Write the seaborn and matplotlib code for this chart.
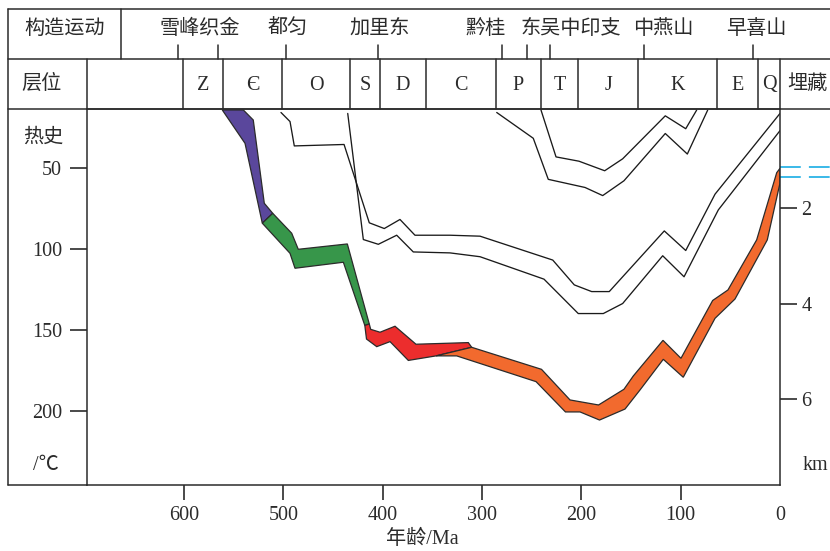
import numpy as np
import pandas as pd
import matplotlib
matplotlib.use("Agg")
import matplotlib.pyplot as plt
import matplotlib.transforms as mtransforms
from matplotlib.lines import Line2D
import seaborn as sns

# ---------------- data ----------------
age_ticks = [600, 500, 400, 300, 200, 100, 0]
temp_ticks = [50, 100, 150, 200]
depth_ticks = [2, 4, 6]

# stratigraphic columns (Ma)
period_labels = ["Z", "Є", "O", "S", "D", "C", "P", "T", "J", "K", "E", "Q"]
period_bounds = [601, 561, 501, 433, 403, 356, 286, 241, 203, 143, 63, 22, 0]

# tectonic movements
event_names = ["雪峰织金", "都匀", "加里东", "黔桂", "东吴中印支", "中燕山", "早喜山"]
event_label_ages = [584, 496, 403, 296, 211, 118, 24]
event_tick_ages = [606, 566, 497, 405, 280, 255, 232, 137, 27]

# thermal history envelope (age in Ma, temperature in °C)
band_upper_age = [540.3, 530.3, 519.2, 510.7, 491.6, 485.0, 435.6, 413.5, 412.1,
                  402.7, 387.6, 366.5, 313.8, 310.4, 240.1, 211.4, 182.7, 157.1,
                  147.7, 117.8, 99.7, 67.8, 52.4, 23.5, 3.3, 0.0]
band_upper_temp = [14.2, 20.4, 71.8, 78.0, 90.3, 100.2, 96.9, 146.3, 149.6,
                   151.4, 147.7, 158.8, 157.8, 160.7, 174.3, 193.2, 196.3, 186.6,
                   178.4, 156.4, 167.5, 131.8, 125.3, 94.4, 52.9, 50.2]
band_lower_age = [561.5, 538.6, 521.2, 493.3, 488.3, 439.6, 418.0, 416.3, 406.0,
                  392.6, 374.2, 346.3, 325.5, 245.6, 216.0, 201.3, 181.7, 156.0,
                  140.9, 117.5, 97.4, 65.4, 45.3, 12.8, 0.0]
band_lower_temp = [14.2, 34.8, 84.1, 102.7, 111.9, 108.2, 147.2, 155.6, 160.3,
                   157.2, 168.8, 166.0, 166.0, 181.9, 200.6, 200.6, 205.6, 198.8,
                   187.0, 168.1, 179.2, 142.8, 130.9, 94.4, 59.3]
# envelope split into heating stages (vertex index on upper / lower edge)
stage_upper_idx = [0, 3, 7, 13, 25]
stage_lower_idx = [0, 2, 6, 11, 24]
stage_colors = ["#5a479c", "#37964a", "#ec2d2d", "#f26a2e"]

# present-day temperatures (°C)
present_temps = [49.2, 55.7]

# burial history curves (age in Ma, depth in km)
burial_O_age = [502.4, 493.3, 489.0, 438.9, 413.5, 398.4, 382.6, 367.5, 332.2,
                302.0, 228.8, 207.1, 189.6, 171.9, 116.5, 94.9, 65.4, 0.0]
burial_O_km = [0.0, 0.19, 0.70, 0.67, 2.31, 2.43, 2.24, 2.57, 2.57,
               2.59, 3.09, 3.61, 3.75, 3.75, 2.48, 2.89, 1.71, 0.02]
burial_S_age = [435.2, 419.5, 404.4, 385.9, 369.2, 332.2, 302.0, 237.6, 203.1,
                177.9, 158.4, 118.1, 96.6, 62.1, 0.0]
burial_S_km = [0.02, 2.66, 2.76, 2.57, 2.92, 2.94, 3.02, 3.49, 4.21,
               4.21, 4.00, 3.00, 3.44, 2.04, 0.38]
burial_P_age = [285.2, 248.4, 233.3, 196.3, 178.5, 157.1, 115.5, 93.3, 72.8]
burial_P_km = [0.0, 0.54, 1.40, 1.57, 1.74, 1.43, 0.44, 0.87, -0.05]
burial_T_age = [240.6, 225.5, 202.4, 176.5, 158.4, 115.5, 94.9, 83.9]
burial_T_km = [-0.05, 0.93, 1.02, 1.22, 0.97, 0.07, 0.34, -0.05]

# ---------------- style ----------------
sns.set_theme(style="white")
plt.rcParams["font.family"] = ["Liberation Serif", "Noto Sans CJK SC"]
plt.rcParams["axes.unicode_minus"] = False
INK = "#2b2b2b"
LW = 1.1
FS = 14.5

W, H = 830, 551
fig = plt.figure(figsize=(W / 100, H / 100), dpi=100)
fig.patch.set_facecolor("white")


def fx(px):
    return px / W


def fy(py):
    return 1 - py / H


ax = fig.add_axes([fx(87), fy(485), fx(780) - fx(87), fy(109) - fy(485)])
ax2 = ax.twinx()

# heating stages of the thermal envelope
for k, color in enumerate(stage_colors):
    u0, u1 = stage_upper_idx[k], stage_upper_idx[k + 1]
    l0, l1 = stage_lower_idx[k], stage_lower_idx[k + 1]
    xs = band_upper_age[u0:u1 + 1] + band_lower_age[l0:l1 + 1][::-1]
    ys = band_upper_temp[u0:u1 + 1] + band_lower_temp[l0:l1 + 1][::-1]
    ax.fill(xs, ys, facecolor=color, edgecolor=INK, linewidth=0.9, zorder=3)

# burial curves on the depth axis
burial = pd.concat([
    pd.DataFrame({"age": burial_O_age, "km": burial_O_km, "horizon": "O"}),
    pd.DataFrame({"age": burial_S_age, "km": burial_S_km, "horizon": "S"}),
    pd.DataFrame({"age": burial_P_age, "km": burial_P_km, "horizon": "P"}),
    pd.DataFrame({"age": burial_T_age, "km": burial_T_km, "horizon": "T"}),
])
sns.lineplot(data=burial, x="age", y="km", units="horizon", estimator=None,
             sort=False, color="#1a1a1a", linewidth=0.95, ax=ax2, legend=False)

# axis ranges
ax.set_xlim(697.7, 0)
ax.set_ylim(245.7, 13.6)
ax2.set_ylim(7.80, -0.073)

ax.set_xticks(age_ticks)
ax.set_xticklabels([str(a) for a in age_ticks])
ax.set_yticks(temp_ticks)
ax.set_yticklabels([str(t) for t in temp_ticks])
ax2.set_yticks(depth_ticks)
ax2.set_yticklabels([str(d) for d in depth_ticks])

ax.tick_params(axis="x", direction="out", length=11, width=1.2, color=INK,
               pad=4, labelsize=FS, labelcolor=INK, bottom=True)
ax.tick_params(axis="y", direction="out", length=12, width=1.2, color=INK,
               pad=6, labelsize=FS, labelcolor=INK, left=True)
ax2.tick_params(axis="y", direction="out", length=12, width=1.2, color=INK,
                pad=3.5, labelsize=FS, labelcolor=INK, right=True)
ax.xaxis.get_major_ticks()[-1].tick1line.set_visible(False)

ax.set_ylabel("")
ax2.set_ylabel("")
ax2.set_xlabel("")
ax.set_xlabel("年龄/Ma", fontsize=FS, color=INK)
ax.xaxis.set_label_coords((422 - 87) / 693, -(530 - 485) / 376)

for a in (ax, ax2):
    for s in a.spines.values():
        s.set_color(INK)
        s.set_linewidth(LW)
ax2.spines["left"].set_visible(False)
ax2.spines["bottom"].set_visible(False)
ax2.spines["top"].set_visible(False)
ax.spines["right"].set_visible(False)
ax.grid(False)
ax2.grid(False)

# present-day temperature marks beyond the depth axis
for t in present_temps:
    ax.plot([0, -52], [t, t], color="#2bb3e6", linewidth=1.3,
            linestyle=(0, (11.5, 4.5)), clip_on=False, zorder=4)

# ---------------- header table ----------------
def fig_line(x0, x1, y0, y1):
    fig.add_artist(Line2D([fx(x0), fx(x1)], [fy(y0), fy(y1)],
                          color=INK, linewidth=LW))


fig_line(8, 830, 9, 9)
fig_line(8, 830, 59, 59)
fig_line(8, 830, 109, 109)
fig_line(8, 8, 9, 485)
fig_line(8, 87, 485, 485)
fig_line(120.7, 120.7, 9, 59)
fig_line(87, 87, 59, 109)
fig_line(780, 780, 59, 109)

blend = mtransforms.blended_transform_factory(ax.transData, fig.transFigure)

for b in period_bounds[:-1]:
    ax.plot([b, b], [fy(59), fy(109)], color=INK, linewidth=LW,
            transform=blend, clip_on=False)
for lab, a0, a1 in zip(period_labels, period_bounds[:-1], period_bounds[1:]):
    ax.text((a0 + a1) / 2, fy(85), lab, transform=blend, ha="center",
            va="center", fontsize=FS, color=INK)

for a in event_tick_ages:
    ax.plot([a, a], [fy(45), fy(59)], color=INK, linewidth=LW,
            transform=blend, clip_on=False)
for name, a in zip(event_names, event_label_ages):
    ax.text(a, fy(29), name, transform=blend, ha="center", va="center",
            fontsize=FS, color=INK)

fig.text(fx(65), fy(29), "构造运动", ha="center", va="center", fontsize=FS, color=INK)
fig.text(fx(41), fy(84), "层位", ha="center", va="center", fontsize=FS, color=INK)
fig.text(fx(787), fy(84), "埋藏", ha="left", va="center", fontsize=FS, color=INK)
fig.text(fx(43), fy(138), "热史", ha="center", va="center", fontsize=FS, color=INK)
fig.text(fx(46), fy(465), "/℃", ha="center", va="center", fontsize=FS, color=INK)
fig.text(fx(803), fy(466), "km", ha="left", va="center", fontsize=FS, color=INK)

fig.savefig("out.png", dpi=100, facecolor="white")
